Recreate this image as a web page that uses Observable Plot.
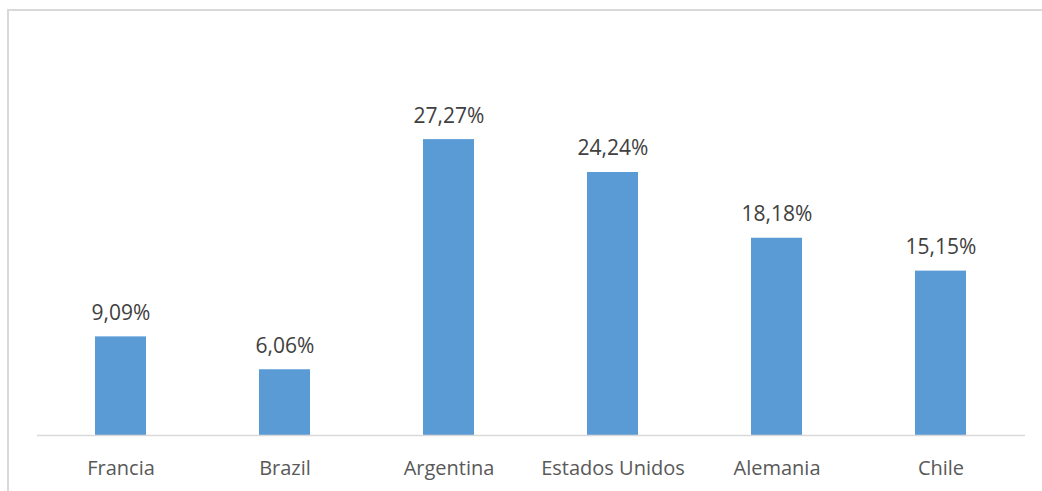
<!DOCTYPE html>
<html>
<head>
<meta charset="utf-8">
<script src="https://cdn.jsdelivr.net/npm/d3@7"></script>
<script src="https://cdn.jsdelivr.net/npm/@observablehq/plot@0.6"></script>
<style>
  html, body { margin: 0; padding: 0; background: #fff; }
  #wrap { position: relative; width: 1042px; height: 491px; overflow: hidden; }
  #frame { position: absolute; left: 7px; top: 9px; width: 1100px; height: 600px;
           border-left: 2px solid #d9d9d9; border-top: 2px solid #d9d9d9; box-sizing: border-box; }
  #chart { position: absolute; left: 0; top: 0; }
</style>
</head>
<body>
<div id="wrap"><div id="frame"></div><div id="chart"></div></div>
<script>
const categories = ["Francia", "Brazil", "Argentina", "Estados Unidos", "Alemania", "Chile"];
const values = [9.09, 6.06, 27.27, 24.24, 18.18, 15.15];
const labels = ["9,09%", "6,06%", "27,27%", "24,24%", "18,18%", "15,15%"];

const data = categories.map((c, i) => ({ cat: c, v: values[i], label: labels[i] }));

const chart = Plot.plot({
  width: 1042,
  height: 491,
  marginLeft: 37,
  marginRight: 17,
  marginTop: 109.5,
  marginBottom: 56,
  style: { fontFamily: "'Open Sans', sans-serif", background: "transparent" },
  x: { domain: categories, paddingInner: 0.686, paddingOuter: 0.342, label: null },
  y: { domain: [0, 30], axis: null },
  marks: [
    Plot.barY(data, { x: "cat", y: "v", fill: "#5B9BD5" }),
    Plot.ruleY([0], { stroke: "#d9d9d9", strokeWidth: 1.5 }),
    Plot.text(data, { x: "cat", y: "v", text: "label", lineAnchor: "bottom", dy: -17,
                      fontSize: 21, fill: "#404040" }),
    Plot.axisX({ tickSize: 0, tickPadding: 25, fontSize: 20, color: "#595959", label: null })
  ]
});
document.getElementById("chart").appendChild(chart);
</script>
</body>
</html>
